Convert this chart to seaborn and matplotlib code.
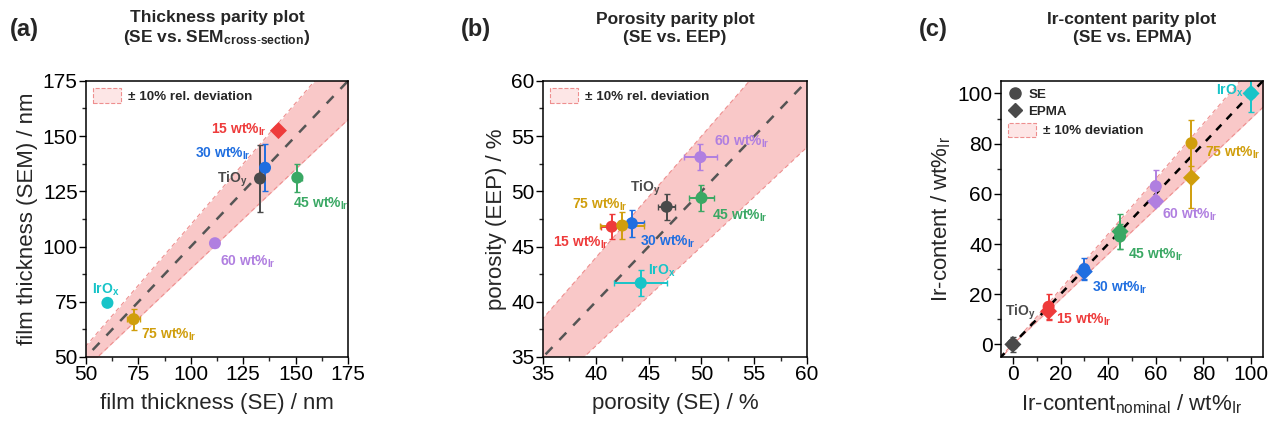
import numpy as np
import pandas as pd
import matplotlib
matplotlib.use("Agg")
import matplotlib.pyplot as plt
from matplotlib.patches import Patch
from matplotlib.lines import Line2D
from matplotlib.ticker import MultipleLocator, AutoMinorLocator
import seaborn as sns

# ---- data ----
samples = ["TiOy", "15 wt%", "30 wt%", "45 wt%", "60 wt%", "75 wt%", "IrOx"]

# (a) thickness: SE vs SEM cross-section, nm
thick_se = [133.0, 141.8, 135.4, 150.8, 111.5, 72.7, 60.2]
thick_se_err = [0.0, 0.0, 0.0, 2.0, 1.5, 3.0, 1.5]
thick_sem = [130.8, 152.5, 135.7, 131.2, 101.5, 67.1, 74.5]
thick_sem_err = [15.0, 0.0, 10.5, 6.3, 1.5, 4.7, 0.0]

# (b) porosity: SE vs EEP, %
poro_se = [46.7, 41.5, 43.4, 50.0, 49.9, 42.5, 44.25]
poro_se_err = [0.8, 1.0, 1.2, 1.2, 1.6, 2.1, 2.5]
poro_eep = [48.6, 46.8, 47.1, 49.4, 53.1, 46.9, 41.7]
poro_eep_err = [1.2, 1.15, 1.2, 1.2, 1.2, 1.2, 1.2]

# (c) Ir content: nominal vs SE / EPMA, wt%
ir_nominal = [0, 15, 30, 45, 60, 75, 100]
ir_se = [0.0, 15.0, 30.0, 43.0, 63.0, 80.2, 100.0]
ir_se_err = [3.0, 5.0, 4.5, 5.0, 6.5, 9.2, 7.5]
ir_epma = [0.0, 13.2, 29.0, 45.0, 57.0, 66.4, 100.0]
ir_epma_err = [1.0, 3.5, 3.0, 7.0, 2.0, 12.0, 1.0]

colors = {"TiOy": "#4a4a4a", "15 wt%": "#ee3b3b", "30 wt%": "#1f6ee0",
          "45 wt%": "#3aa864", "60 wt%": "#b07fe0", "75 wt%": "#d09e0c",
          "IrOx": "#18c4c8"}
labels = {s: (s + r"$_{\mathbf{Ir}}$") if "wt" in s else s for s in samples}
labels["TiOy"] = r"TiO$_{\mathbf{y}}$"
labels["IrOx"] = r"IrO$_{\mathbf{x}}$"

sns.set_theme(style="ticks")
plt.rcParams["font.family"] = ["Liberation Sans", "DejaVu Sans"]
plt.rcParams["mathtext.fontset"] = "custom"
plt.rcParams["mathtext.rm"] = "Liberation Sans"
plt.rcParams["mathtext.it"] = "Liberation Sans"
plt.rcParams["mathtext.bf"] = "Liberation Sans:bold"

band_face = "#f9c8c8"
band_edge = "#ee8f8f"
legend_face = "#fde6e6"

fig = plt.figure(figsize=(12.73, 4.28), dpi=100)
ax_a = fig.add_axes([0.0676, 0.166, 0.2058, 0.645])
ax_b = fig.add_axes([0.4266, 0.166, 0.2074, 0.645])
ax_c = fig.add_axes([0.7863, 0.166, 0.2058, 0.645])


def parity_band(ax, lo, hi, line_color, dash):
    xs = np.linspace(lo, hi, 50)
    ax.fill_between(xs, 0.9 * xs, 1.1 * xs, color=band_face, lw=0, zorder=0)
    ax.plot(xs, 0.9 * xs, color=band_edge, lw=0.8, ls=(0, (4, 3)), zorder=0.5)
    ax.plot(xs, 1.1 * xs, color=band_edge, lw=0.8, ls=(0, (4, 3)), zorder=0.5)
    ax.plot(xs, xs, color=line_color, lw=1.8, ls=(0, dash), zorder=1)


def style_axes(ax, lim, step):
    ax.set_xlim(*lim)
    ax.set_ylim(*lim)
    ax.xaxis.set_major_locator(MultipleLocator(step))
    ax.yaxis.set_major_locator(MultipleLocator(step))
    ax.xaxis.set_minor_locator(AutoMinorLocator(2))
    ax.yaxis.set_minor_locator(AutoMinorLocator(2))
    ax.tick_params(which="major", direction="out", length=5, width=1,
                   labelsize=15, pad=1, colors="black")
    ax.tick_params(which="minor", direction="out", length=3, width=1)
    for sp in ax.spines.values():
        sp.set_visible(True)
        sp.set_linewidth(1.1)
        sp.set_color("black")


def annotate(ax, pos):
    for s, (x, y, ha) in pos.items():
        ax.text(x, y, labels[s], color=colors[s], fontsize=10,
                fontweight="bold", ha=ha, va="center", zorder=5)


def band_legend(ax, text, y=1.0):
    leg = ax.legend(handles=[Patch(facecolor=legend_face, edgecolor=band_edge, ls="--",
                                   lw=0.8, label=text)],
                    loc="upper left", bbox_to_anchor=(0, y), frameon=False,
                    prop={"weight": "bold", "size": 9.6}, handlelength=2.1,
                    handleheight=1.3, handletextpad=0.5, borderaxespad=0.15)
    return leg


# ---------------- (a) ----------------
parity_band(ax_a, 40, 185, "#555555", (4, 4))
df_a = pd.DataFrame({"sample": samples, "x": thick_se, "y": thick_sem})
for i, s in enumerate(samples):
    ax_a.errorbar(thick_se[i], thick_sem[i], xerr=thick_se_err[i] or None,
                  yerr=thick_sem_err[i] or None, fmt="none",
                  ecolor=colors[s], elinewidth=1.4, capsize=2, zorder=2)
df_a["shape"] = ["o" if s != "15 wt%" else "D" for s in samples]
sns.scatterplot(data=df_a, x="x", y="y", hue="sample", palette=colors,
                style="shape", markers={"o": "o", "D": "D"}, s=75,
                linewidth=0, legend=False, ax=ax_a, zorder=3)
style_axes(ax_a, (50, 175), 25)
annotate(ax_a, {"15 wt%": (136, 152.8, "right"), "30 wt%": (128.5, 142, "right"),
                "TiOy": (127, 130.5, "right"), "45 wt%": (148.8, 119.5, "left"),
                "60 wt%": (113.8, 93, "left"), "IrOx": (59.5, 80.5, "center"),
                "75 wt%": (76, 60, "left")})
ax_a.set_xlabel("film thickness (SE) / nm", fontsize=16, labelpad=6)
ax_a.set_ylabel("film thickness (SEM) / nm", fontsize=16, labelpad=3)
ax_a.set_title("Thickness parity plot\n(SE vs. SEM$_{\\mathbf{cross\\text{-}section}}$)",
               fontsize=12.5, fontweight="bold", pad=28, linespacing=1.25)
band_legend(ax_a, "± 10% rel. deviation")

# ---------------- (b) ----------------
parity_band(ax_b, 30, 65, "#555555", (4, 4))
df_b = pd.DataFrame({"sample": samples, "x": poro_se, "y": poro_eep})
for i, s in enumerate(samples):
    ax_b.errorbar(poro_se[i], poro_eep[i], xerr=poro_se_err[i], yerr=poro_eep_err[i],
                  fmt="none", ecolor=colors[s], elinewidth=1.4, capsize=2, zorder=2)
sns.scatterplot(data=df_b, x="x", y="y", hue="sample", palette=colors, s=75,
                linewidth=0, legend=False, ax=ax_b, zorder=3)
style_axes(ax_b, (35, 60), 5)
annotate(ax_b, {"60 wt%": (51.2, 54.5, "left"), "TiOy": (46.1, 50.3, "right"),
                "75 wt%": (43.0, 48.8, "right"), "45 wt%": (51.0, 47.8, "left"),
                "15 wt%": (41.2, 45.3, "right"), "30 wt%": (44.2, 45.4, "left"),
                "IrOx": (44.9, 42.8, "left")})
ax_b.set_xlabel("porosity (SE) / %", fontsize=16, labelpad=6)
ax_b.set_ylabel("porosity (EEP) / %", fontsize=16, labelpad=3)
ax_b.set_title("Porosity parity plot\n(SE vs. EEP)", fontsize=12.5,
               fontweight="bold", pad=28, linespacing=1.25)
band_legend(ax_b, "± 10% rel. deviation")

# ---------------- (c) ----------------
parity_band(ax_c, -10, 110, "black", (3, 3))
df_c = pd.DataFrame({"sample": samples * 2, "x": ir_nominal * 2,
                     "y": ir_se + ir_epma,
                     "method": ["SE"] * len(samples) + ["EPMA"] * len(samples)})
for i, s in enumerate(samples):
    ax_c.errorbar(ir_nominal[i], ir_se[i], yerr=ir_se_err[i], fmt="none",
                  ecolor=colors[s], elinewidth=1.4, capsize=2, zorder=2)
    ax_c.errorbar(ir_nominal[i], ir_epma[i], yerr=ir_epma_err[i], fmt="none",
                  ecolor=colors[s], elinewidth=1.4, capsize=2, zorder=2)
sns.scatterplot(data=df_c, x="x", y="y", hue="sample", palette=colors,
                style="method", markers={"SE": "o", "EPMA": "D"}, s=75,
                linewidth=0, legend=False, ax=ax_c, zorder=3)
style_axes(ax_c, (-5, 105), 20)
annotate(ax_c, {"IrOx": (96.8, 101, "right"), "75 wt%": (80.7, 76.2, "left"),
                "60 wt%": (62.6, 51.5, "left"), "45 wt%": (48.3, 35.6, "left"),
                "30 wt%": (33.2, 22.4, "left"), "15 wt%": (18.1, 9.7, "left"),
                "TiOy": (-3.4, 12.9, "left")})
ax_c.set_xlabel(r"Ir-content$_{\mathrm{nominal}}$ / wt%$_{\mathrm{Ir}}$", fontsize=16, labelpad=6)
ax_c.set_ylabel(r"Ir-content / wt%$_{\mathrm{Ir}}$", fontsize=16, labelpad=3)
ax_c.set_title("Ir-content parity plot\n(SE vs. EPMA)", fontsize=12.5,
               fontweight="bold", pad=28, linespacing=1.25)
marker_leg = ax_c.legend(
    handles=[Line2D([], [], marker="o", ls="none", color="#4a4a4a", ms=8, label="SE"),
             Line2D([], [], marker="D", ls="none", color="#4a4a4a", ms=7, label="EPMA")],
    loc="upper left", frameon=False, prop={"weight": "bold", "size": 9.6},
    handlelength=1.0, handletextpad=0.5, borderaxespad=0.15, labelspacing=0.35)
band_legend(ax_c, "± 10% deviation", y=0.875)
ax_c.add_artist(marker_leg)

for x, t in [(0.008, "(a)"), (0.362, "(b)"), (0.722, "(c)")]:
    fig.text(x, 0.93, t, fontsize=17, fontweight="bold", va="center")

fig.savefig("out.png", dpi=100)
